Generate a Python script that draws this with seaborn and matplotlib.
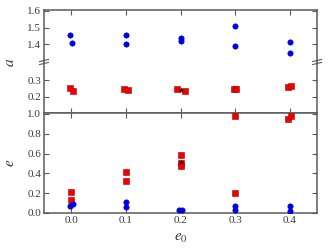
import numpy as np
import pandas as pd
import matplotlib
matplotlib.use("Agg")
import matplotlib.pyplot as plt
import seaborn as sns

# values
x_blue = [-0.002, 0.002, 0.1, 0.1, 0.2, 0.2, 0.3, 0.3, 0.4, 0.4]
a_blue = [1.455, 1.407, 1.457, 1.404, 1.44, 1.42, 1.51, 1.387, 1.413, 1.349]

x_red = [-0.003, 0.004, 0.097, 0.103, 0.194, 0.208, 0.298, 0.302, 0.397, 0.403]
a_red = [0.252, 0.236, 0.246, 0.240, 0.246, 0.234, 0.246, 0.246, 0.258, 0.268]

x_e_red = [0.0, 0.0, 0.1, 0.1, 0.2, 0.2, 0.2, 0.3, 0.3, 0.397, 0.403]
e_red = [0.21, 0.129, 0.413, 0.325, 0.582, 0.50, 0.47, 0.978, 0.206, 0.951, 0.978]

x_e_blue = [-0.003, 0.003, 0.1, 0.1, 0.197, 0.203, 0.3, 0.3, 0.4, 0.4]
e_blue = [0.071, 0.091, 0.112, 0.058, 0.034, 0.027, 0.068, 0.034, 0.074, 0.017]

x_star = [0.2]
a_star = [0.240]
e_star = [0.515]

xticks = [0.0, 0.1, 0.2, 0.3, 0.4]

sns.set_style("ticks")
plt.rcParams['font.family'] = ['Liberation Serif', 'DejaVu Serif']
plt.rcParams['mathtext.fontset'] = 'stix'

spine_col = '#5a5a5a'
fig = plt.figure(figsize=(3.32, 2.49), dpi=100)
gs = fig.add_gridspec(3, 1, height_ratios=[52, 51, 100], hspace=0,
                      left=0.1325, right=0.955, top=0.96, bottom=0.1446)
ax_hi = fig.add_subplot(gs[0])
ax_lo = fig.add_subplot(gs[1], sharex=ax_hi)
ax_e = fig.add_subplot(gs[2], sharex=ax_hi)

blue = dict(color='#0000f0', marker='o', s=15, edgecolor='#0000b0', linewidth=0.4, zorder=3)
red = dict(color='#f00000', marker='s', s=15, edgecolor='#b00000', linewidth=0.4, zorder=3)
star = dict(color='#500000', marker='*', s=16, edgecolor='#300000', linewidth=0.2, zorder=4)

sns.scatterplot(x=x_blue, y=a_blue, ax=ax_hi, **blue)
sns.scatterplot(x=x_red, y=a_red, ax=ax_lo, **red)
sns.scatterplot(x=x_star, y=a_star, ax=ax_lo, **star)
sns.scatterplot(x=x_e_red, y=e_red, ax=ax_e, **red)
sns.scatterplot(x=x_star, y=e_star, ax=ax_e, **star)
sns.scatterplot(x=x_e_blue, y=e_blue, ax=ax_e, **blue)

ax_hi.set_ylim(1.293, 1.606)
ax_lo.set_ylim(0.104, 0.41)
ax_e.set_ylim(0.0, 1.01)
ax_e.set_xlim(-0.05, 0.45)

ax_hi.set_yticks([1.4, 1.5, 1.6])
ax_lo.set_yticks([0.2, 0.3])
ax_e.set_yticks([0.0, 0.2, 0.4, 0.6, 0.8, 1.0])
ax_e.set_xticks(xticks)
ax_e.set_xticklabels(["%.1f" % v for v in xticks])

for ax in (ax_hi, ax_lo, ax_e):
    ax.tick_params(direction='in', top=True, right=True, length=3.5, width=0.8,
                   labelsize=8, colors=spine_col, labelcolor='#3a3a3a', pad=2)
    for sp in ax.spines.values():
        sp.set_color(spine_col)
        sp.set_linewidth(1.1)
    ax.set_xlabel("")
    ax.set_ylabel("")

ax_hi.spines['bottom'].set_visible(False)
ax_lo.spines['top'].set_visible(False)
ax_hi.tick_params(bottom=False, labelbottom=False)
ax_lo.tick_params(top=False, labelbottom=False)

# break marks on both sides
for xf in (0.1325, 0.955):
    for dy in (-1.5, 1.5):
        yc = 1 - (62 + dy) / 249
        fig.add_artist(plt.Line2D([xf - 5 / 332, xf + 5 / 332], [yc - 1.2 / 249, yc + 1.2 / 249],
                                  transform=fig.transFigure, color=spine_col, lw=0.8,
                                  solid_capstyle='butt'))

fig.text(10 / 332, 1 - 62 / 249, "$a$", fontsize=11, ha='center', va='center', rotation=90, color='#333333')
fig.text(10 / 332, 1 - 163 / 249, "$e$", fontsize=11, ha='center', va='center', rotation=90, color='#333333')
fig.text(181 / 332, 1 - 238 / 249, "$e_0$", fontsize=11, ha='center', va='center', color='#333333')

fig.savefig("out.png", dpi=100)
